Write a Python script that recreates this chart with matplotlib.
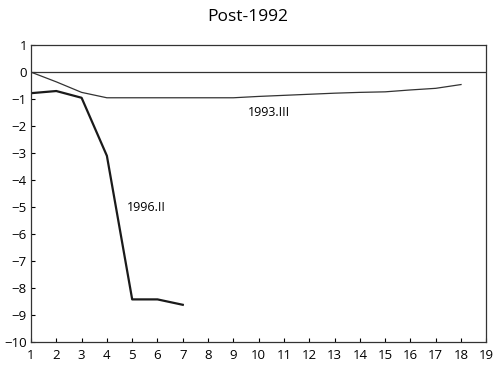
import matplotlib
matplotlib.use("Agg")
import matplotlib.pyplot as plt

plt.rcParams['font.family'] = ['Open Sans', 'DejaVu Sans']

# quarters after shock
x_9303 = list(range(1, 19))
y_9303 = [0, -0.36, -0.75, -0.95, -0.95, -0.95, -0.95, -0.95, -0.95,
          -0.9, -0.86, -0.82, -0.78, -0.75, -0.73, -0.66, -0.6, -0.46]

x_9602 = list(range(1, 8))
y_9602 = [-0.78, -0.7, -0.95, -3.1, -8.42, -8.42, -8.62]

fig = plt.figure(figsize=(4.96, 3.67), dpi=100)
ax = fig.add_axes([0.0625, 0.068, 0.918, 0.809])

ax.axhline(0, color='#333333', linewidth=0.9)
ax.plot(x_9303, y_9303, color='#333333', linewidth=0.9)
ax.plot(x_9602, y_9602, color='#1a1a1a', linewidth=1.6)

ax.text(10.4, -1.48, '1993.III', fontsize=9, ha='center', va='center')
ax.text(5.55, -5.0, '1996.II', fontsize=9, ha='center', va='center')

ax.set_xlim(1, 19)
ax.set_ylim(-10, 1)
ax.set_xticks(range(1, 20))
ax.set_yticks(range(-10, 2))
ax.tick_params(direction='in', length=3, width=0.8, labelsize=9.5)
ax.tick_params(axis='x', pad=5)
ax.tick_params(axis='y', pad=3)
for s in ax.spines.values():
    s.set_linewidth(0.9)
    s.set_color('#333333')

fig.suptitle('Post-1992', fontsize=12.5, y=0.975)

fig.savefig('out.png', dpi=100)
